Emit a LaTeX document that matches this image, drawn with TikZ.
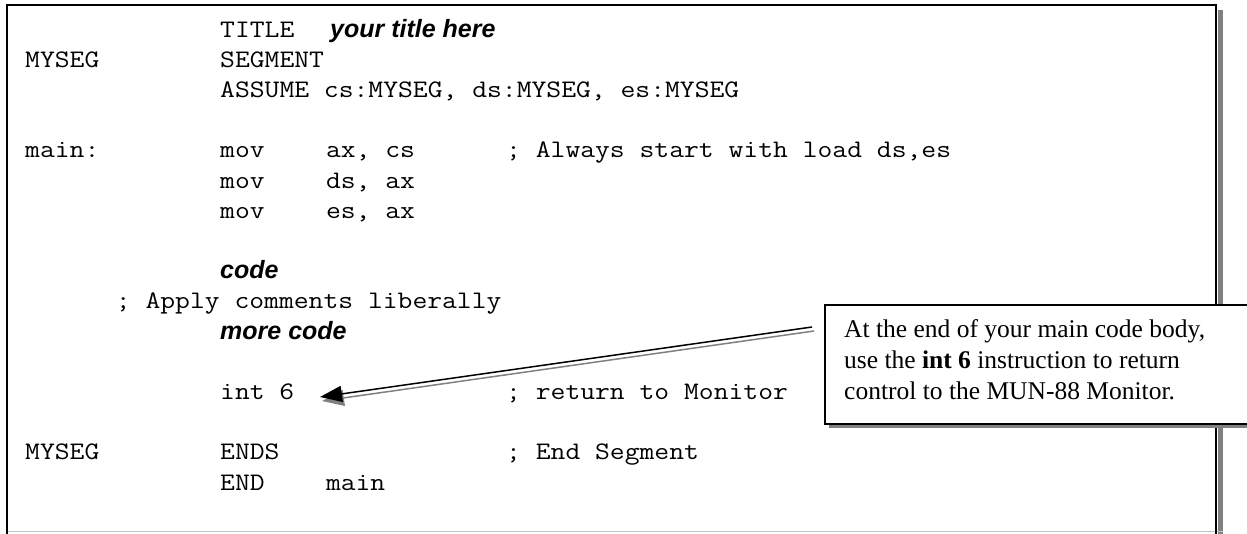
\documentclass[tikz,border=0pt]{standalone}
\usepackage{fontspec}
\setmainfont{Liberation Serif}
\setsansfont{Liberation Sans}
\setmonofont{Latin Modern Mono}[FakeStretch=1.1428]
\usetikzlibrary{arrows.meta}
\definecolor{shadowgray}{HTML}{808080}
\definecolor{edgegray}{HTML}{C0C0C0}
\begin{document}
\begin{tikzpicture}[x=1pt,y=-1pt,
  code/.style={anchor=base west, inner sep=0pt, font=\fontsize{25.2}{30}\selectfont\ttfamily},
  emphcode/.style={anchor=base west, inner sep=0pt, font=\fontsize{25}{30}\selectfont\sffamily\bfseries\itshape},
  notetext/.style={anchor=base west, inner sep=0pt, font=\fontsize{25.5}{31}\selectfont},
  notebox/.style={draw, line width=1.5pt, fill=white, anchor=north west, inner sep=0pt, minimum width=440pt, minimum height=119pt},
  pointer/.style={line width=1.5pt, -{Triangle[length=22pt,width=16pt]}}
]
\useasboundingbox (0,0) rectangle (1247,533);
% frame
\fill[shadowgray] (1218,10) rectangle (1223,540);
\draw[edgegray, line width=1pt] (7,531.5) -- (1223,531.5);
\draw[line width=2pt] (7,545) -- (7,5) -- (1216,5) -- (1216,545);
% listing
\def\cA{25}\def\cB{220}\def\cO{325.8}\def\cC{506}
\node[code] (t0) at (\cB,37) {TITLE};
\node[emphcode] (t0e) at (330,37) {your title here};
\node[code] (t1a) at (\cA,67.2) {MYSEG};
\node[code] (t1b) at (\cB,67.2) {SEGMENT};
\node[code] (t2) at (\cB,97.4) {ASSUME cs:MYSEG, ds:MYSEG, es:MYSEG};
\node[code] (t4a) at (\cA,157.8) {main:};
\node[code] (t4b) at (\cB,157.8) {mov};
\node[code] (t4c) at (\cO,157.8) {ax, cs};
\node[code] (t4d) at (\cC,157.8) {; Always start with load ds,es};
\node[code] (t5b) at (\cB,188) {mov};
\node[code] (t5c) at (\cO,188) {ds, ax};
\node[code] (t6b) at (\cB,218.2) {mov};
\node[code] (t6c) at (\cO,218.2) {es, ax};
\node[emphcode] (t8) at (\cB,278.6) {code};
\node[code] (t9) at (115.7,308.8) {; Apply comments liberally};
\node[emphcode] (t10) at (\cB,339) {more code};
\node[code] (t12b) at (\cB,399.4) {int 6};
\node[code] (t12d) at (\cC,399.4) {; return to Monitor};
\node[code] (t14a) at (\cA,459.8) {MYSEG};
\node[code] (t14b) at (\cB,459.8) {ENDS};
\node[code] (t14d) at (\cC,459.8) {; End Segment};
\node[code] (t15b) at (\cB,490) {END};
\node[code] (t15c) at (\cO,490) {main};
% callout
\fill[shadowgray] (829,309) rectangle (1270,428);
\node[notebox] (note) at (824,304) {};
\node[notetext] (n1) at (844,337) {At the end of your main code body,};
\node[notetext] (n2) at (844,368) {use the \textbf{int 6} instruction to return};
\node[notetext] (n3) at (844,399) {control to the MUN-88 Monitor.};
% pointer
\coordinate (astart) at (812,327);
\coordinate (atip) at (320,397);
\draw[pointer, shadowgray] ([shift={(2,4)}]astart) -- ([shift={(2,4)}]atip);
\draw[pointer, black] (astart) -- (atip);
\end{tikzpicture}
\end{document}
